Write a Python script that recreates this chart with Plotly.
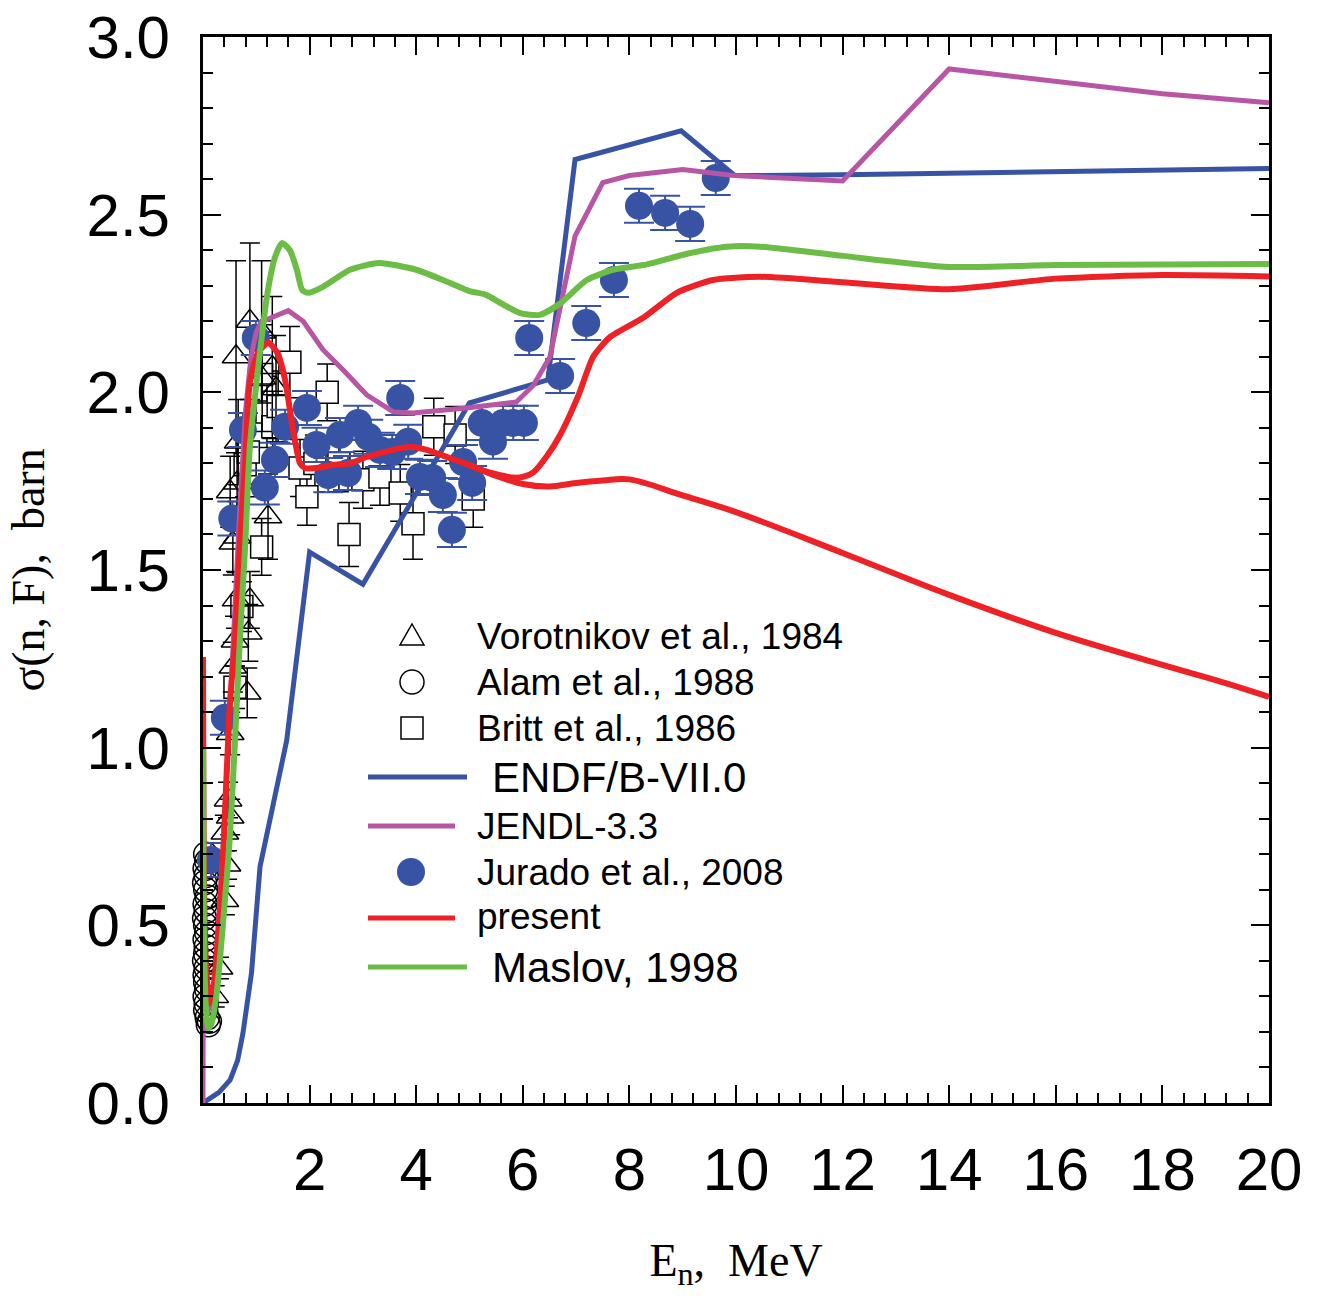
import plotly.graph_objects as go

# ---------------- data ----------------
# ENDF/B-VII.0
endf_E = [0.0, 0.13, 0.3, 0.51, 0.65, 0.75, 0.91, 1.07, 1.2, 1.57, 2.0, 3.0, 5.0, 5.95, 6.47, 6.98, 8.97, 9.98, 12.0, 20.0]
endf_s = [0.0, 0.014, 0.03, 0.065, 0.12, 0.197, 0.366, 0.665, 0.76, 1.02, 1.55, 1.46, 1.97, 2.01, 2.035, 2.655, 2.736, 2.61, 2.612, 2.63]

# JENDL-3.3
jendl_E = [0.0, 0.003, 0.05, 0.1, 0.2, 0.375, 0.5, 0.6, 0.7, 0.8, 0.9, 1.0, 1.1, 1.2, 1.6, 1.88, 2.25, 2.63, 3.07, 3.57,
           3.94, 4.94, 5.88, 6.2, 6.51, 6.98, 7.5, 8.0, 9.0, 9.95, 12.0, 14.0, 16.0, 18.0, 20.0]
jendl_s = [0.0, 0.2, 0.24, 0.26, 0.3, 0.71, 1.1, 1.4, 1.7, 1.95, 2.1, 2.17, 2.2, 2.205, 2.23, 2.2, 2.12, 2.063, 1.993, 1.945,
           1.942, 1.956, 1.973, 2.02, 2.10, 2.44, 2.59, 2.61, 2.627, 2.61, 2.595, 2.91, 2.875, 2.84, 2.815]

# present (upper branch)
pres_E = [0.0, 0.005, 0.02, 0.06, 0.12, 0.2, 0.3, 0.375, 0.5, 0.6, 0.69, 0.79, 0.88, 1.03, 1.22, 1.40, 1.54, 1.69,
          1.82, 1.91, 2.13, 2.44, 2.76, 3.07, 3.40, 3.70, 3.90, 4.20, 4.63, 5.0, 5.26, 5.5, 5.82, 6.0, 6.2, 6.45,
          6.7, 7.04, 7.32, 7.64, 8.26, 8.89, 9.57, 10.45, 12.0, 14.0, 16.0, 18.0, 20.0]
pres_s = [1.255, 1.0, 0.6, 0.38, 0.28, 0.33, 0.5, 0.685, 1.115, 1.30, 1.57, 1.80, 2.03, 2.11, 2.14, 2.11, 2.035, 1.894,
          1.80, 1.787, 1.787, 1.796, 1.80, 1.818, 1.832, 1.843, 1.846, 1.838, 1.815, 1.795, 1.78, 1.77, 1.76, 1.762,
          1.775, 1.82, 1.88, 1.99, 2.10, 2.156, 2.21, 2.28, 2.316, 2.325, 2.31, 2.29, 2.32, 2.33, 2.326]
# present (lower branch)
pres2_E = [5.0, 5.5, 6.0, 6.5, 7.0, 7.5, 8.0, 9.0, 10.0, 12.0, 14.0, 16.0, 18.0, 19.0, 20.0]
pres2_s = [1.795, 1.765, 1.742, 1.735, 1.745, 1.752, 1.755, 1.71, 1.663, 1.548, 1.43, 1.323, 1.233, 1.19, 1.143]

# Maslov, 1998
masl_E = [0.0, 0.005, 0.02, 0.05, 0.1, 0.15, 0.25, 0.4, 0.5, 0.6, 0.69, 0.79, 0.88, 1.01, 1.20, 1.35, 1.48, 1.63,
          1.76, 1.86, 1.97, 2.25, 2.76, 3.3, 4.0, 4.6, 5.0, 5.3, 5.6, 5.95, 6.32, 6.7, 7.2, 7.69, 8.33, 9.08, 9.83,
          10.45, 12.0, 14.0, 16.0, 20.0]
masl_s = [1.0, 0.75, 0.45, 0.28, 0.21, 0.22, 0.3, 0.55, 0.74, 1.02, 1.30, 1.565, 1.85, 2.035, 2.27, 2.38, 2.42, 2.40,
          2.345, 2.288, 2.28, 2.297, 2.345, 2.364, 2.345, 2.31, 2.285, 2.275, 2.25, 2.223, 2.218, 2.25, 2.316, 2.345,
          2.36, 2.39, 2.41, 2.41, 2.384, 2.353, 2.358, 2.361]

# Jurado et al., 2008
jur_E = [0.15, 0.41, 0.55, 0.75, 0.99, 1.16, 1.35, 1.54, 1.95, 2.13, 2.35, 2.57, 2.72, 2.91, 3.10, 3.32, 3.55, 3.70,
         3.85, 4.07, 4.30, 4.50, 4.67, 4.88, 5.05, 5.23, 5.44, 5.63, 5.82, 6.02, 6.12, 6.70, 7.19, 7.71, 8.18, 8.67,
         9.14, 9.62]
jur_s = [0.684, 1.084, 1.645, 1.894, 2.153, 1.732, 1.81, 1.903, 1.956, 1.852, 1.767, 1.88, 1.773, 1.914, 1.875, 1.838,
         1.832, 1.984, 1.861, 1.762, 1.759, 1.711, 1.613, 1.804, 1.745, 1.914, 1.861, 1.914, 1.914, 1.914, 2.153,
         2.046, 2.195, 2.316, 2.525, 2.505, 2.474, 2.603]
jur_err = [0.048] * len(jur_E)

# Vorotnikov et al., 1984
vor_E = [0.22, 0.30, 0.41, 0.45, 0.41, 0.51, 0.47, 0.51, 0.56, 0.83, 0.60, 0.85, 0.62, 0.88, 0.56, 0.64, 0.51, 0.64,
         0.66, 1.22, 1.11, 1.37, 0.62, 1.10, 0.88, 1.30]
vor_s = [0.30, 0.38, 0.57, 0.67, 0.76, 0.805, 0.853, 1.04, 1.227, 1.154, 1.30, 1.323, 1.416, 1.416, 1.576, 1.593, 1.72,
         1.745, 1.86, 1.65, 2.04, 2.01, 2.10, 2.17, 2.20, 2.07]
vor_err = [0.03, 0.03, 0.04, 0.04, 0.05, 0.05, 0.05, 0.06, 0.07, 0.07, 0.07, 0.08, 0.08, 0.08, 0.09, 0.1, 0.1, 0.1,
           0.12, 0.12, 0.15, 0.15, 0.27, 0.2, 0.22, 0.2]

# Alam et al., 1988
alam_E = [0.05, 0.07, 0.04, 0.06, 0.03, 0.05, 0.08, 0.04, 0.06, 0.03, 0.05, 0.07, 0.04, 0.06, 0.05, 0.03, 0.06, 0.04,
          0.05, 0.07, 0.04, 0.06, 0.05, 0.08, 0.10, 0.12]
alam_s = [0.70, 0.68, 0.66, 0.64, 0.62, 0.60, 0.58, 0.56, 0.54, 0.52, 0.50, 0.48, 0.46, 0.44, 0.42, 0.40, 0.38, 0.36,
          0.34, 0.32, 0.30, 0.28, 0.26, 0.24, 0.22, 0.23]

# Britt et al., 1986
brit_E = [0.60, 0.73, 1.10, 0.79, 0.85, 1.20, 1.31, 1.10, 1.63, 1.41, 1.82, 1.95, 2.10, 2.33, 2.55, 2.74, 3.0, 3.32,
          3.70, 3.94, 4.33, 4.73, 5.07]
brit_s = [1.17, 1.397, 1.565, 1.796, 1.832, 1.945, 1.903, 2.05, 2.085, 1.96, 1.787, 1.706, 1.80, 2.0, 1.80, 1.60, 1.754,
          1.762, 1.717, 1.63, 1.903, 1.88, 1.70]
brit_err = [0.06, 0.07, 0.08, 0.09, 0.09, 0.1, 0.1, 0.12, 0.1, 0.1, 0.08, 0.08, 0.08, 0.08, 0.08, 0.09, 0.08, 0.08,
            0.08, 0.1, 0.08, 0.08, 0.08]

x_tickvals = [2, 4, 6, 8, 10, 12, 14, 16, 18, 20]

# ---------------- styles ----------------
BLUE = "#3853A4"
MAG = "#B656A5"
RED = "#EE2127"
GREEN = "#6BBD45"
LW = 5

fig = go.Figure()

fig.add_trace(go.Scatter(x=brit_E, y=brit_s, mode="markers", cliponaxis=False,
                         marker=dict(symbol="square", size=22, color="white", line=dict(color="black", width=1.5)),
                         error_y=dict(type="data", array=brit_err, color="black", thickness=1.5, width=10)))
fig.add_trace(go.Scatter(x=vor_E, y=vor_s, mode="markers", cliponaxis=False,
                         marker=dict(symbol="triangle-up-open", size=24, color="black", line=dict(color="black", width=1.5)),
                         error_y=dict(type="data", array=vor_err, color="black", thickness=1.5, width=10)))
fig.add_trace(go.Scatter(x=alam_E, y=alam_s, mode="markers", cliponaxis=False,
                         marker=dict(symbol="circle-open", size=24, color="black", line=dict(color="black", width=1.5))))
fig.add_trace(go.Scatter(x=jur_E, y=jur_s, mode="markers", cliponaxis=False,
                         marker=dict(symbol="circle", size=28, color=BLUE),
                         error_y=dict(type="data", array=jur_err, color=BLUE, thickness=2, width=15)))

fig.add_trace(go.Scatter(x=endf_E, y=endf_s, mode="lines", line=dict(color=BLUE, width=LW), cliponaxis=False))
fig.add_trace(go.Scatter(x=jendl_E, y=jendl_s, mode="lines", line=dict(color=MAG, width=LW), cliponaxis=False))
fig.add_trace(go.Scatter(x=pres2_E, y=pres2_s, mode="lines", line=dict(color=RED, width=LW + 1, shape="spline"), cliponaxis=False))
fig.add_trace(go.Scatter(x=pres_E, y=pres_s, mode="lines", line=dict(color=RED, width=LW + 1, shape="spline", smoothing=0.6), cliponaxis=False))
fig.add_trace(go.Scatter(x=masl_E, y=masl_s, mode="lines", line=dict(color=GREEN, width=LW + 1, shape="spline", smoothing=0.6), cliponaxis=False))

# ---------------- layout ----------------
L, R, T, B = 203, 51, 37, 193
W, H = 1320, 1296
PW, PH = W - L - R, H - T - B


def px(x):
    return (x - L) / PW


def py(y):
    return (H - B - y) / PH


TICKFONT = dict(family="Liberation Sans, Arial, sans-serif", size=60, color="black")
SERIF = "Liberation Serif, Times New Roman, serif"

fig.update_layout(
    width=W, height=H, showlegend=False,
    margin=dict(l=L, r=R, t=T, b=B, autoexpand=False),
    paper_bgcolor="white", plot_bgcolor="white",
    xaxis=dict(range=[0, 20], tickmode="array", tickvals=x_tickvals, automargin=False,
               ticks="inside", ticklen=18, tickwidth=2, tickcolor="black",
               minor=dict(tickmode="linear", tick0=0, dtick=0.4, ticks="inside", ticklen=10, tickwidth=2, tickcolor="black"),
               showline=True, linewidth=3, linecolor="black", mirror="allticks",
               showgrid=False, zeroline=False, tickfont=TICKFONT, ticklabelstandoff=12,
               title=dict(text="E<sub>n</sub>,&nbsp;&nbsp;MeV", font=dict(family=SERIF, size=46, color="black"), standoff=42)),
    yaxis=dict(range=[0, 3], tickmode="linear", tick0=0, dtick=0.5, tickformat=".1f", automargin=False,
               ticks="inside", ticklen=18, tickwidth=2, tickcolor="black",
               minor=dict(tickmode="linear", tick0=0, dtick=0.1, ticks="inside", ticklen=10, tickwidth=2, tickcolor="black"),
               showline=True, linewidth=3, linecolor="black", mirror="allticks",
               showgrid=False, zeroline=False, tickfont=TICKFONT, ticklabelstandoff=18,
               title=dict(text="σ(n, F),&nbsp;&nbsp;barn", font=dict(family=SERIF, size=46, color="black"), standoff=28)),
)

# ---------------- manual legend ----------------
shapes = []
annos = []
LEGFONT = "Liberation Sans, Arial, sans-serif"


def hline(x0, x1, y, color):
    shapes.append(dict(type="line", xref="paper", yref="paper", x0=px(x0), x1=px(x1), y0=py(y), y1=py(y),
                       line=dict(color=color, width=5)))


def label(x, y, text, size):
    annos.append(dict(xref="paper", yref="paper", x=px(x), y=py(y), xanchor="left", yanchor="middle",
                      text=text, showarrow=False, font=dict(family=LEGFONT, size=size, color="black")))


# triangle
shapes.append(dict(type="path", xref="paper", yref="paper",
                   path=f"M {px(412)} {py(624)} L {px(424)} {py(645)} L {px(400)} {py(645)} Z",
                   line=dict(color="black", width=1.5), fillcolor="rgba(0,0,0,0)"))
# open circle
shapes.append(dict(type="circle", xref="paper", yref="paper", x0=px(400), x1=px(424), y0=py(694), y1=py(670),
                   line=dict(color="black", width=1.5)))
# square
shapes.append(dict(type="rect", xref="paper", yref="paper", x0=px(401), x1=px(423), y0=py(739), y1=py(717),
                   line=dict(color="black", width=1.5), fillcolor="white"))
hline(368, 467, 777, BLUE)
hline(368, 455, 826, MAG)
shapes.append(dict(type="circle", xref="paper", yref="paper", x0=px(397), x1=px(425), y0=py(886), y1=py(858),
                   line=dict(color=BLUE, width=0), fillcolor=BLUE))
hline(368, 455, 918, RED)
hline(368, 467, 967, GREEN)

label(475, 636, "Vorotnikov et al., 1984", 37)
label(475, 682, "Alam et al., 1988", 37)
label(475, 728, "Britt et al., 1986", 37)
label(490, 777, "ENDF/B-VII.0", 42)
label(475, 826, "JENDL-3.3", 37)
label(475, 872, "Jurado et al., 2008", 37)
label(475, 916, "present", 37)
label(490, 967, "Maslov, 1998", 42)

fig.update_layout(shapes=shapes, annotations=annos)

fig.write_html("out.html")
